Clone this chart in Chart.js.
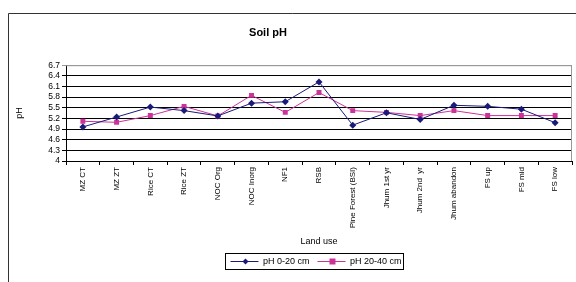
<!DOCTYPE html>
<html>
<head>
<meta charset="utf-8">
<script src="https://cdn.jsdelivr.net/npm/chart.js@4"></script>
<style>
  html, body { margin: 0; padding: 0; background: #fff; }
  #wrap { width: 576px; height: 282px; position: relative; }
</style>
</head>
<body>
<div id="wrap"><canvas id="chart"></canvas></div>
<script>
// ----- DATA -----
const landUse = ['MZ CT', 'MZ ZT', 'Rice CT', 'Rice ZT', 'NOC Org', 'NOC Inorg', 'NF1', 'RSB',
    'Pine Forest (BSI)', 'Jhum 1st yr', 'Jhum 2nd  yr', 'Jhum abandon', 'FS up', 'FS mid', 'FS low'];
const ph0to20 = [4.96, 5.24, 5.52, 5.42, 5.27, 5.63, 5.67, 6.23, 5.01, 5.36, 5.17, 5.57, 5.54, 5.46, 5.08];
const ph20to40 = [5.12, 5.09, 5.28, 5.54, 5.27, 5.85, 5.37, 5.93, 5.42, 5.37, 5.28, 5.42, 5.28, 5.28, 5.28];
const yTicks = [4, 4.3, 4.6, 4.9, 5.2, 5.5, 5.8, 6.1, 6.4, 6.7];

const BLUE = '#1a1a7a';
const PINK = '#cc3399';
const FONT = 'Liberation Sans, Arial, sans-serif';

// frame, plot border and legend box
const framePlugin = {
    id: 'frame',
    afterLayout(chart) {
        chart.titleBlock.left = 8;
        chart.titleBlock.right = 528;
        chart.legend.left = 60;
        chart.legend.right = 572;
    },
    beforeDatasetsDraw(chart) {
        const { ctx, chartArea: a } = chart;
        ctx.save();
        ctx.strokeStyle = '#999';
        ctx.lineWidth = 1;
        ctx.beginPath();
        ctx.moveTo(a.left, a.top + 0.5);
        ctx.lineTo(a.right - 0.5, a.top + 0.5);
        ctx.lineTo(a.right - 0.5, a.bottom);
        ctx.stroke();
        ctx.restore();
    },
    afterDraw(chart) {
        const { ctx } = chart;
        ctx.save();
        ctx.strokeStyle = '#333';
        ctx.lineWidth = 1;
        ctx.beginPath();
        ctx.moveTo(8.5, 282);
        ctx.lineTo(8.5, 13.5);
        ctx.lineTo(576, 13.5);
        ctx.stroke();

        // legend: marker on each line sample, then a box round it
        const boxes = chart.legend.legendHitBoxes;
        if (boxes && boxes.length) {
            boxes.forEach((b, i) => {
                const cx = b.left + 15;
                const cy = b.top + b.height / 2;
                ctx.fillStyle = i === 0 ? BLUE : PINK;
                ctx.beginPath();
                if (i === 0) {
                    ctx.moveTo(cx, cy - 3); ctx.lineTo(cx + 3, cy);
                    ctx.lineTo(cx, cy + 3); ctx.lineTo(cx - 3, cy);
                    ctx.closePath();
                } else {
                    ctx.rect(cx - 3, cy - 3, 6, 6);
                }
                ctx.fill();
            });
            const first = boxes[0], last = boxes[boxes.length - 1];
            ctx.strokeStyle = '#000';
            ctx.strokeRect(Math.round(first.left) - 4.5, Math.round(first.top) - 3.5,
                Math.round(last.left + last.width - first.left) + 7, Math.round(first.height) + 7);
        }
        ctx.restore();
    }
};

const ctx = document.getElementById('chart').getContext('2d');
new Chart(ctx, {
    type: 'line',
    data: {
        labels: landUse,
        datasets: [
            {
                label: 'pH 0-20 cm',
                data: ph0to20,
                borderColor: BLUE,
                backgroundColor: BLUE,
                borderWidth: 1,
                pointStyle: 'rectRot',
                pointRadius: 3.5,
                pointBorderWidth: 0,
                tension: 0
            },
            {
                label: 'pH 20-40 cm',
                data: ph20to40,
                borderColor: PINK,
                backgroundColor: PINK,
                borderWidth: 1,
                pointStyle: 'rect',
                pointRadius: 3.5,
                pointBorderWidth: 0,
                tension: 0
            }
        ]
    },
    options: {
        responsive: true,
        maintainAspectRatio: false,
        animation: false,
        layout: { padding: { left: 8, right: 4, top: 0, bottom: 6 } },
        plugins: {
            title: {
                display: true,
                text: 'Soil pH',
                color: '#000',
                font: { family: FONT, size: 11, weight: 'bold' },
                padding: { top: 26, bottom: 26 }
            },
            legend: {
                position: 'bottom',
                labels: {
                    color: '#000',
                    font: { family: FONT, size: 9 },
                    boxWidth: 28,
                    boxHeight: 1,
                    padding: 8,
                    generateLabels(chart) {
                        return chart.data.datasets.map((ds, i) => ({
                            text: ds.label,
                            fillStyle: ds.borderColor,
                            strokeStyle: ds.borderColor,
                            lineWidth: 0,
                            datasetIndex: i
                        }));
                    }
                }
            },
            tooltip: { enabled: false }
        },
        scales: {
            x: {
                offset: true,
                afterFit(scale) { scale.height = 88; },
                grid: {
                    offset: true,
                    drawOnChartArea: false,
                    drawTicks: true,
                    tickLength: 4,
                    color: '#000'
                },
                border: { color: '#000', width: 1 },
                ticks: {
                    color: '#000',
                    font: { family: FONT, size: 8 },
                    minRotation: 90,
                    maxRotation: 90,
                    padding: 2,
                    autoSkip: false
                },
                title: {
                    display: true,
                    text: 'Land use',
                    color: '#000',
                    font: { family: FONT, size: 9 },
                    padding: { top: 0, bottom: 2 }
                }
            },
            y: {
                min: 4,
                max: 6.7,
                afterFit(scale) { scale.width = 58; },
                afterBuildTicks(scale) { scale.ticks = yTicks.map(v => ({ value: v })); },
                grid: {
                    color: c => (c.tick && c.tick.value === 6.7) ? '#999' : '#000',
                    lineWidth: 1,
                    tickLength: 4
                },
                border: { color: '#000', width: 1 },
                ticks: {
                    color: '#000',
                    font: { family: FONT, size: 8.5 },
                    padding: 2,
                    autoSkip: false,
                    callback: v => String(+v.toFixed(1))
                },
                title: {
                    display: true,
                    text: 'pH',
                    color: '#000',
                    font: { family: FONT, size: 9 },
                    padding: { top: 6, bottom: 0 }
                }
            }
        }
    },
    plugins: [framePlugin]
});
</script>
</body>
</html>
